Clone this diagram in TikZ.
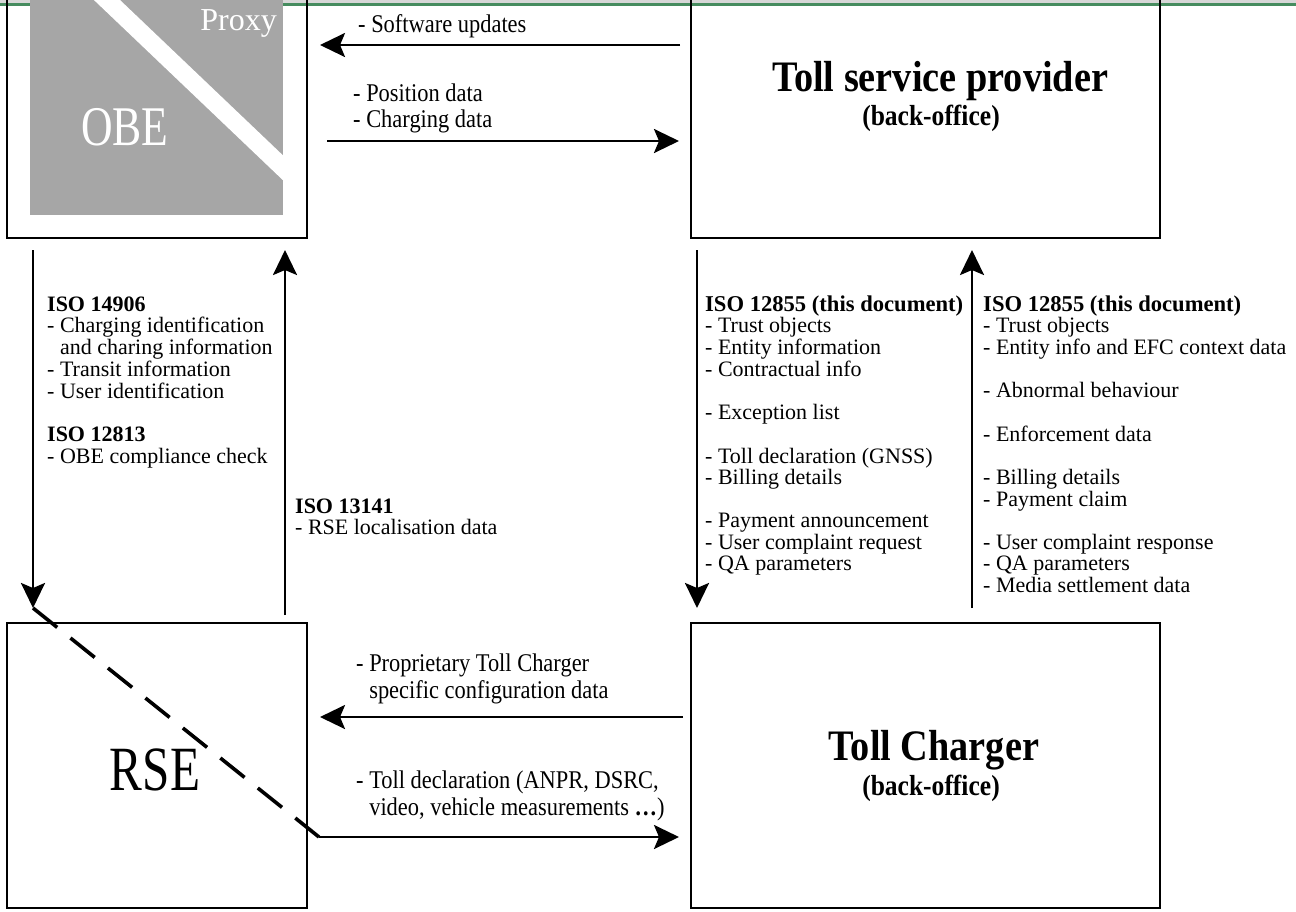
\documentclass[tikz,border=0pt]{standalone}
\usepackage{fontspec}
\setmainfont{Liberation Serif}
\newfontfamily\condfont[FakeStretch=0.88]{Liberation Serif}
\newfontfamily\bigcond[FakeStretch=0.78]{Liberation Serif}
\usetikzlibrary{arrows.meta}
\definecolor{obegray}{RGB}{166,166,166}
\definecolor{topgreen}{RGB}{70,140,95}
\definecolor{topgrey}{RGB}{215,215,215}
\begin{document}
\begin{tikzpicture}[x=1pt,y=-1pt,
  box/.style={draw=black, line width=2.8pt, inner sep=0pt, outer sep=0pt, anchor=north west},
  conn/.style={line width=2.8pt, -{Stealth[length=25pt,width=24pt,inset=5pt]}},
  dashconn/.style={line width=3.6pt, dash pattern=on 31pt off 17pt},
  col/.style={inner sep=0pt, anchor=base west, font=\fontsize{22}{21.5}\selectfont},
  toplbl/.style={inner sep=0pt, anchor=base west, font=\condfont\fontsize{25.5}{26}\selectfont},
  lowlbl/.style={inner sep=0pt, anchor=base west, font=\condfont\fontsize{25.5}{27}\selectfont},
  title/.style={inner sep=0pt, anchor=base, font=\condfont\bfseries\fontsize{43.5}{43}\selectfont},
  subtitle/.style={inner sep=0pt, anchor=base, font=\condfont\bfseries\fontsize{29}{29}\selectfont},
]
\useasboundingbox (0,0) rectangle (1296,911);
\clip (0,0) rectangle (1296,911);

% top rule
\fill[topgrey] (0,0) rectangle (1296,2.5);
\fill[topgreen] (0,2.5) rectangle (1296,5.5);

% OBE grey panel with white stripe
\fill[obegray] (30,-40) rectangle (283,215);
\begin{scope}
  \clip (30,-40) rectangle (283,215);
  \draw[white, line width=18pt] (65,-40) -- (300,184);
\end{scope}

% boxes
\node[box, minimum width=300pt, minimum height=268pt] (obe) at (7,-30) {};
\node[box, minimum width=469pt, minimum height=268pt] (tsp) at (691,-30) {};
\node[box, minimum width=300pt, minimum height=285pt] (rse) at (7,623) {};
\node[box, minimum width=469pt, minimum height=285pt] (tc) at (691,623) {};

% box labels
\node[inner sep=0pt, anchor=base, text=white, font=\bigcond\fontsize{56}{56}\selectfont] (obelbl) at (125,145) {OBE};
\node[inner sep=0pt, anchor=base east, text=white, font=\fontsize{32}{32}\selectfont] (proxylbl) at (277,30) {Proxy};
\node[inner sep=0pt, anchor=base, font=\bigcond\fontsize{63}{63}\selectfont] (rselbl) at (155,790) {RSE};
\node[title] (tsptitle) at (940,91) {Toll service provider};
\node[subtitle] (tspsub) at (931,125) {(back-office)};
\node[title] (tctitle) at (934,760) {Toll Charger};
\node[subtitle] (tcsub) at (931,795) {(back-office)};

% connector positions
\coordinate (ysw) at (0,45);
\coordinate (ypos) at (0,141);
\coordinate (xdown) at (33,0);
\coordinate (xup) at (285,0);
\coordinate (xtd) at (697,0);
\coordinate (xtu) at (972,0);
\coordinate (ycfg) at (0,717);
\coordinate (tip) at (33,608);
\coordinate (corner) at (319,837);

% connectors
\draw[conn, shorten <=11pt, shorten >=13pt] (tsp.west |- ysw) -- (obe.east |- ysw);
\draw[conn, shorten <=20pt, shorten >=12pt] (obe.east |- ypos) -- (tsp.west |- ypos);
\draw[conn, shorten <=12pt, shorten >=15pt] (obe.south -| xdown) -- (rse.north -| xdown);
\draw[conn, shorten <=8pt, shorten >=12pt] (rse.north -| xup) -- (obe.south -| xup);
\draw[conn, shorten <=12pt, shorten >=15pt] (tsp.south -| xtd) -- (tc.north -| xtd);
\draw[conn, shorten <=15pt, shorten >=12pt] (tc.north -| xtu) -- (tsp.south -| xtu);
\draw[conn, shorten <=8pt, shorten >=13pt] (tc.west |- ycfg) -- (rse.east |- ycfg);
\draw[dashconn] (tip) -- (corner);
\draw[conn, shorten >=12pt] (corner) -- (tc.west |- corner);

% labels on connectors
\node[toplbl] (swlbl) at (358,32) {- Software updates};
\node[toplbl] (poslbl) at (353,101) {\begin{tabular}[t]{@{}l@{}}- Position data\\- Charging data\end{tabular}};
\node[lowlbl] (cfglbl) at (356,671) {\begin{tabular}[t]{@{}l@{}}- Proprietary Toll Charger\\\phantom{- }specific configuration data\end{tabular}};
\node[lowlbl] (decllbl) at (356,788) {\begin{tabular}[t]{@{}l@{}}- Toll declaration (ANPR, DSRC,\\\phantom{- }video, vehicle measurements \textbf{…})\end{tabular}};

\node[col] (obersel) at (47,311) {\begin{tabular}[t]{@{}l@{}}
\textbf{ISO 14906}\\
- Charging identification\\
\phantom{- }and charing information\\
- Transit information\\
- User identification\\
\\
\textbf{ISO 12813}\\
- OBE compliance check
\end{tabular}};

\node[col] (rseobe) at (295,513) {\begin{tabular}[t]{@{}l@{}}
\textbf{ISO 13141}\\
- RSE localisation data
\end{tabular}};

\node[col] (tsptc) at (705,311) {\begin{tabular}[t]{@{}l@{}}
\textbf{\fontsize{22.6}{21.5}\selectfont ISO 12855 (this document)}\\
- Trust objects\\
- Entity information\\
- Contractual info\\
\\
- Exception list\\
\\
- Toll declaration (GNSS)\\
- Billing details\\
\\
- Payment announcement\\
- User complaint request\\
- QA parameters
\end{tabular}};

\node[col] (tctsp) at (983,311) {\begin{tabular}[t]{@{}l@{}}
\textbf{\fontsize{22.6}{21.5}\selectfont ISO 12855 (this document)}\\
- Trust objects\\
- Entity info and EFC context data\\
\\
- Abnormal behaviour\\
\\
- Enforcement data\\
\\
- Billing details\\
- Payment claim\\
\\
- User complaint response\\
- QA parameters\\
- Media settlement data
\end{tabular}};
\end{tikzpicture}
\end{document}
